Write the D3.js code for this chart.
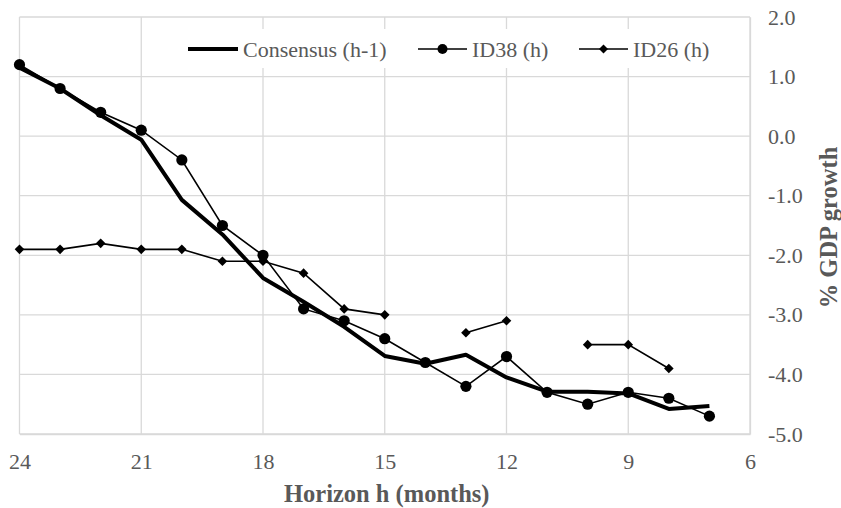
<!DOCTYPE html>
<html>
<head>
<meta charset="utf-8">
<script src="https://cdn.jsdelivr.net/npm/d3@7"></script>
<style>
  html, body { margin: 0; padding: 0; background: #fff; }
  svg { display: block; }
  text { font-family: "Liberation Serif", "Times New Roman", serif; fill: #595959; }
</style>
</head>
<body>
<svg id="chart" width="841" height="508"></svg>
<script>
const horizons = [24, 23, 22, 21, 20, 19, 18, 17, 16, 15, 14, 13, 12, 11, 10, 9, 8, 7];
const consensus = [1.15, 0.8, 0.35, -0.06, -1.07, -1.65, -2.38, -2.78, -3.2, -3.69, -3.82, -3.67, -4.05, -4.29, -4.29, -4.32, -4.58, -4.53];
const id38 = [1.2, 0.8, 0.4, 0.1, -0.4, -1.5, -2.0, -2.9, -3.1, -3.4, -3.8, -4.2, -3.7, -4.3, -4.5, -4.3, -4.4, -4.7];
const id26 = [-1.9, -1.9, -1.8, -1.9, -1.9, -2.1, -2.1, -2.3, -2.9, -3.0, null, -3.3, -3.1, null, -3.5, -3.5, -3.9, null];
const xTicks = [24, 21, 18, 15, 12, 9, 6];
const yTicks = [2, 1, 0, -1, -2, -3, -4, -5];
const seriesNames = ["Consensus (h-1)", "ID38 (h)", "ID26 (h)"];
const xTitle = "Horizon h (months)";
const yTitle = "% GDP growth";

const svg = d3.select("#chart");
const plot = { left: 19.5, right: 750, top: 17, bottom: 434 };
const x = d3.scaleLinear().domain([24, 6]).range([plot.left, plot.right]);
const y = d3.scaleLinear().domain([-5, 2]).range([plot.bottom, plot.top]);
const grid = "#d9d9d9";

// gridlines
svg.append("g").selectAll("line").data(yTicks).join("line")
  .attr("x1", plot.left).attr("x2", plot.right)
  .attr("y1", d => y(d)).attr("y2", d => y(d))
  .attr("stroke", grid).attr("stroke-width", 1.3);
svg.append("g").selectAll("line").data(xTicks).join("line")
  .attr("y1", plot.top).attr("y2", plot.bottom)
  .attr("x1", d => x(d)).attr("x2", d => x(d))
  .attr("stroke", grid).attr("stroke-width", 1.3);

// axes via d3 axis generators (labels only)
const xAxis = svg.append("g").attr("transform", `translate(0,${plot.bottom})`)
  .call(d3.axisBottom(x).tickValues(xTicks).tickSize(0).tickPadding(19).tickFormat(d3.format("d")));
xAxis.select(".domain").attr("stroke", grid).attr("stroke-width", 1.3);
xAxis.selectAll("text").style("font-size", "22px").style("font-family", "Liberation Serif").attr("fill", "#595959");

const yAxis = svg.append("g").attr("transform", `translate(${plot.right},0)`)
  .call(d3.axisRight(y).tickValues(yTicks).tickSize(0).tickPadding(18).tickFormat(d3.format(".1f")));
yAxis.select(".domain").attr("stroke", grid).attr("stroke-width", 1.3);
yAxis.selectAll("text").style("font-size", "22px").style("font-family", "Liberation Serif").attr("fill", "#595959")
  .text(d => d3.format(".1f")(d).replace("−", "-"));

// axis titles
svg.append("text").attr("x", (plot.left + plot.right) / 2 + 2).attr("y", 502)
  .attr("text-anchor", "middle").style("font-size", "24.5px").style("font-weight", "bold").text(xTitle);
svg.append("text").attr("transform", `translate(837,${(plot.top + plot.bottom) / 2 + 2}) rotate(-90)`)
  .attr("text-anchor", "middle").style("font-size", "24.5px").style("font-weight", "bold").text(yTitle);

// lines
const line = d3.line().defined(d => d[1] !== null).x(d => x(d[0])).y(d => y(d[1]));
const cData = horizons.map((h, i) => [h, consensus[i]]);
const aData = horizons.map((h, i) => [h, id38[i]]);
const bData = horizons.map((h, i) => [h, id26[i]]);

svg.append("path").datum(bData).attr("d", line).attr("fill", "none").attr("stroke", "#000").attr("stroke-width", 1.6);
svg.append("path").datum(aData).attr("d", line).attr("fill", "none").attr("stroke", "#000").attr("stroke-width", 1.6);
svg.append("path").datum(cData).attr("d", line).attr("fill", "none").attr("stroke", "#000").attr("stroke-width", 4).attr("stroke-linejoin", "round");

const diamond = r => `M0,${-r}L${r},0L0,${r}L${-r},0Z`;
svg.append("g").selectAll("path").data(bData.filter(d => d[1] !== null)).join("path")
  .attr("transform", d => `translate(${x(d[0])},${y(d[1])})`).attr("d", diamond(4.8)).attr("fill", "#000");
svg.append("g").selectAll("circle").data(aData).join("circle")
  .attr("cx", d => x(d[0])).attr("cy", d => y(d[1])).attr("r", 5.6).attr("fill", "#000");

// legend
const lg = svg.append("g");
lg.append("rect").attr("x", 183).attr("y", 29).attr("width", 532).attr("height", 39).attr("fill", "#fff");
const ly = 49;
const items = [
  { x0: 188, x1: 238, tx: 243, w: 4, marker: null },
  { x0: 418, x1: 467, tx: 472, w: 1.6, marker: "circle" },
  { x0: 579, x1: 628, tx: 633, w: 1.6, marker: "diamond" }
];
items.forEach((it, i) => {
  lg.append("line").attr("x1", it.x0).attr("x2", it.x1).attr("y1", ly).attr("y2", ly)
    .attr("stroke", "#000").attr("stroke-width", it.w);
  const mx = (it.x0 + it.x1) / 2;
  if (it.marker === "circle") lg.append("circle").attr("cx", mx).attr("cy", ly).attr("r", 5).attr("fill", "#000");
  if (it.marker === "diamond") lg.append("path").attr("transform", `translate(${mx},${ly})`).attr("d", diamond(4.5)).attr("fill", "#000");
  lg.append("text").attr("x", it.tx).attr("y", ly).attr("dy", "0.35em").style("font-size", "22px").text(seriesNames[i]);
});
</script>
</body>
</html>
